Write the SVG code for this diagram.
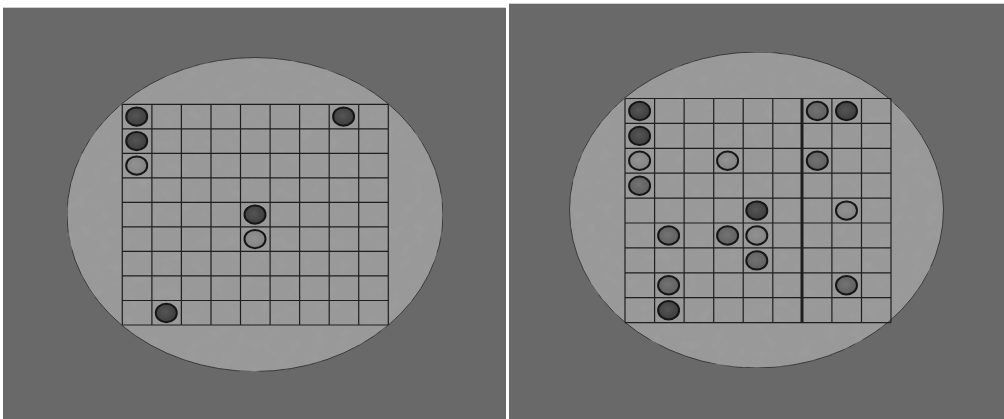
<svg xmlns="http://www.w3.org/2000/svg" width="1004" height="419" viewBox="0 0 1004 419">
  <style>
    .panel { fill: #696969; }
    .plate { fill: #999999; stroke: #3a3a3a; stroke-width: 1; }
    .grid { fill: none; stroke: #1e1e1e; stroke-width: 1.2; }
    .thick { stroke: #1e1e1e; stroke-width: 3; }
    .dot { stroke: #161616; stroke-width: 2; }
    .dk { fill: url(#gDk); }
    .md { fill: url(#gMd); }
    .lt { fill: url(#gLt); }
  </style>
  <defs>
    <radialGradient id="gDk" cx="0.45" cy="0.45" r="0.6">
      <stop offset="0" stop-color="#555"/>
      <stop offset="1" stop-color="#3c3c3c"/>
    </radialGradient>
    <radialGradient id="gMd" cx="0.45" cy="0.45" r="0.6">
      <stop offset="0" stop-color="#737373"/>
      <stop offset="1" stop-color="#5e5e5e"/>
    </radialGradient>
    <radialGradient id="gLt" cx="0.45" cy="0.45" r="0.6">
      <stop offset="0" stop-color="#929292"/>
      <stop offset="1" stop-color="#828282"/>
    </radialGradient>
    <filter id="speck" x="0" y="0" width="1" height="1">
      <feTurbulence type="fractalNoise" baseFrequency="0.08" numOctaves="2" seed="3" result="n"/>
      <feColorMatrix in="n" type="matrix" values="0 0 0 0 0.35  0 0 0 0 0.35  0 0 0 0 0.35  0 0 0 -1.6 0.75" result="m"/>
      <feComposite in="m" in2="SourceGraphic" operator="in" result="c"/>
      <feMerge><feMergeNode in="SourceGraphic"/><feMergeNode in="c"/></feMerge>
    </filter>
  </defs>
  <rect x="0" y="0" width="1004" height="419" fill="#ffffff"/>

  <g id="left-panel">
    <rect class="panel" x="3" y="7.5" width="503" height="412"/>
    <line x1="3" y1="7.5" x2="506" y2="7.5" stroke="#cfcfcf" stroke-width="1"/>
    <ellipse id="left-plate" class="plate" cx="255" cy="214.5" rx="188" ry="157" filter="url(#speck)"/>
    <path class="grid" d="M122.3 104.3V325M151.9 104.3V325M181.4 104.3V325M211 104.3V325M240.5 104.3V325M270.1 104.3V325M299.6 104.3V325M329.2 104.3V325M358.7 104.3V325M388.3 104.3V325
      M122.3 104.3H388.3M122.3 128.8H388.3M122.3 153.3H388.3M122.3 177.9H388.3M122.3 202.4H388.3M122.3 226.9H388.3M122.3 251.4H388.3M122.3 275.9H388.3M122.3 300.5H388.3M122.3 325H388.3"/>
    <g id="L-c0r0"><ellipse class="dot dk" cx="136.7" cy="116.6" rx="10.5" ry="9.2"/></g>
    <g id="L-c0r1"><ellipse class="dot dk" cx="136.7" cy="141.1" rx="10.5" ry="9.2"/></g>
    <g id="L-c0r2"><ellipse class="dot lt" cx="136.7" cy="165.6" rx="10.5" ry="9.2"/></g>
    <g id="L-c7r0"><ellipse class="dot dk" cx="343.6" cy="116.6" rx="10.5" ry="9.2"/></g>
    <g id="L-c4r4"><ellipse class="dot dk" cx="255" cy="214.6" rx="10.5" ry="9.2"/></g>
    <g id="L-c4r5"><ellipse class="dot lt" cx="255" cy="239.1" rx="10.5" ry="9.2"/></g>
    <g id="L-c1r8"><ellipse class="dot dk" cx="166.3" cy="313" rx="10.5" ry="9.2"/></g>
  </g>

  <g id="right-panel">
    <rect class="panel" x="509" y="3.5" width="495" height="416"/>
    <line x1="509" y1="3.5" x2="1004" y2="3.5" stroke="#cfcfcf" stroke-width="1"/>
    <ellipse id="right-plate" class="plate" cx="756.5" cy="210" rx="187" ry="158" filter="url(#speck)"/>
    <path class="grid" d="M625 98.5V322.6M654.6 98.5V322.6M684.1 98.5V322.6M713.7 98.5V322.6M743.2 98.5V322.6M772.8 98.5V322.6M831.9 98.5V322.6M861.5 98.5V322.6M891 98.5V322.6
      M625 98.5H891M625 123.4H891M625 148.3H891M625 173.2H891M625 198.1H891M625 223H891M625 247.9H891M625 272.8H891M625 297.7H891M625 322.6H891"/>
    <line class="thick" x1="802" y1="98.5" x2="802" y2="322.6"/>
    <g id="R-c0r0"><ellipse class="dot dk" cx="639.6" cy="111" rx="10.5" ry="9.2"/></g>
    <g id="R-c0r1"><ellipse class="dot dk" cx="639.6" cy="135.9" rx="10.5" ry="9.2"/></g>
    <g id="R-c0r2"><ellipse class="dot lt" cx="639.6" cy="160.8" rx="10.5" ry="9.2"/></g>
    <g id="R-c0r3"><ellipse class="dot md" cx="639.6" cy="185.7" rx="10.5" ry="9.2"/></g>
    <g id="R-c3r2"><ellipse class="dot lt" cx="727.6" cy="160.8" rx="10.5" ry="9.2"/></g>
    <g id="R-c6r0"><ellipse class="dot md" cx="817.3" cy="111" rx="10.5" ry="9.2"/></g>
    <g id="R-c7r0"><ellipse class="dot dk" cx="846.5" cy="111" rx="10.5" ry="9.2"/></g>
    <g id="R-c6r2"><ellipse class="dot md" cx="817.3" cy="160.8" rx="10.5" ry="9.2"/></g>
    <g id="R-c7r4"><ellipse class="dot lt" cx="846.5" cy="210.6" rx="10.5" ry="9.2"/></g>
    <g id="R-c4r4"><ellipse class="dot dk" cx="756.8" cy="210.6" rx="10.5" ry="9.2"/></g>
    <g id="R-c1r5"><ellipse class="dot md" cx="668.6" cy="235.5" rx="10.5" ry="9.2"/></g>
    <g id="R-c3r5"><ellipse class="dot md" cx="727.6" cy="235.5" rx="10.5" ry="9.2"/></g>
    <g id="R-c4r5"><ellipse class="dot lt" cx="756.8" cy="235.5" rx="10.5" ry="9.2"/></g>
    <g id="R-c4r6"><ellipse class="dot md" cx="756.8" cy="260.4" rx="10.5" ry="9.2"/></g>
    <g id="R-c1r7"><ellipse class="dot md" cx="668.6" cy="285.3" rx="10.5" ry="9.2"/></g>
    <g id="R-c7r7"><ellipse class="dot md" cx="846.5" cy="285.3" rx="10.5" ry="9.2"/></g>
    <g id="R-c1r8"><ellipse class="dot dk" cx="668.6" cy="310.2" rx="10.5" ry="9.2"/></g>
  </g>
  <g id="connectors"/>
</svg>
